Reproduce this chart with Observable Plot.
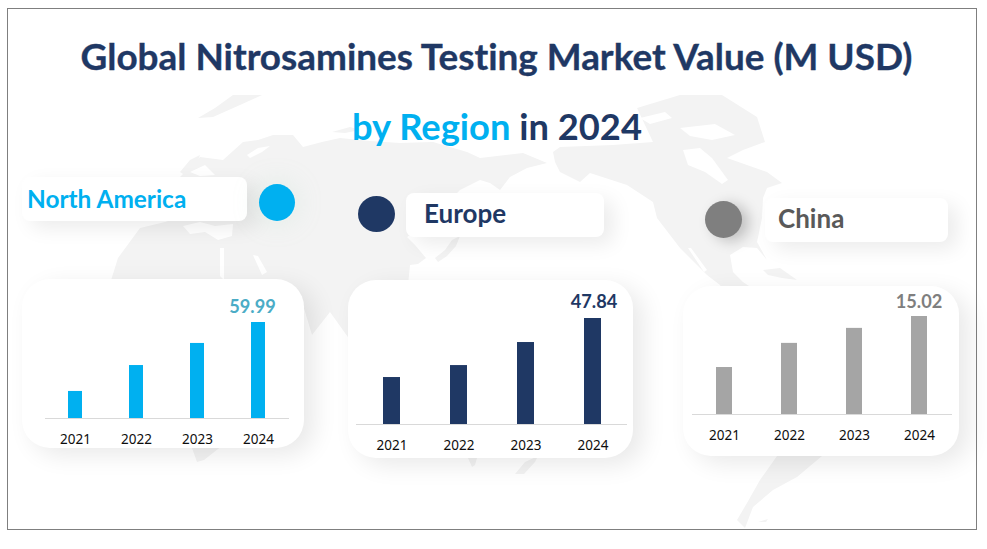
<!DOCTYPE html>
<html>
<head>
<meta charset="utf-8">
<script src="https://cdn.jsdelivr.net/npm/d3@7"></script>
<script src="https://cdn.jsdelivr.net/npm/@observablehq/plot@0.6"></script>
<style>
  html, body { margin: 0; padding: 0; background: #fff; }
  #stage { position: relative; width: 987px; height: 549px; overflow: hidden; background: #fff; font-family: Lato, sans-serif; }
  #frame { position: absolute; left: 7px; top: 8px; width: 968px; height: 520px; border: 1px solid #7f7f7f; }
  #map { position: absolute; left: 0; top: 0; }
  .card { position: absolute; background: #fff; border-radius: 28px; box-shadow: 10px 7px 24px rgba(0,0,0,.09); }
  .tag { position: absolute; background: #fff; border-radius: 8px; box-shadow: 9px 7px 20px rgba(0,0,0,.08); }
  .dot { position: absolute; border-radius: 50%; }
  .chart { position: absolute; }
  .chart svg { background: transparent !important; display: block; }
  #texts { position: absolute; left: 0; top: 0; pointer-events: none; }
  #texts text { font-family: Lato, sans-serif; font-weight: 700; font-variant-ligatures: none; stroke-width: .35px; paint-order: stroke; }
</style>
</head>
<body>
<div id="stage">
  <svg id="map" width="987" height="549" viewBox="0 0 987 549">
    <g fill="#f3f3f3">
      <path d="M198,118L215,108L233,95L262,95L240,105L213,117Z"/>
      <path d="M332,132L350,127L360,130L345,133Z"/>
      <path d="M180,172L190,160L200,155L196,166L186,176Z"/>
      <path d="M108,290L118,258L140,228L165,222L178,218L180,177L200,157L223,160L243,142L258,140L273,135L293,135L303,147L322,142L340,138L370,141L400,143L433,142L467,152L480,158L523,153L547,163L527,168L510,177L500,190L490,183L480,180L460,190L445,205L425,225L407,237L415,245L426,258L418,264L410,265L408,285L400,300L375,345L350,340L330,312L312,335L303,305L285,300L280,400L218,449L204,460L197,462L192,448L150,370L108,320Z"/>
      <path d="M435,258L445,250L452,240L460,236L456,246L447,256L438,262Z"/>
      <path d="M553,152L560,147L613,145L653,142L637,108L680,95L722,95L757,117L765,142L743,150L727,158L767,172L782,183L767,188L763,198L762,218L757,242L767,260L757,248L743,247L730,255L733,272L743,282L770,300L740,320L720,285L707,275L680,248L657,218L653,202L627,185L590,173L580,182L560,172L555,162Z"/>
      <path d="M763,270L780,268L797,280L782,278L768,275Z"/>
      <path d="M777,440L822,440L822,456L803,472L797,477L773,490L753,507L745,528L737,520L747,503L760,480L777,456Z"/>
      <path d="M758,522L768,519L766,522Z"/>
      <path d="M515,474L525,462L538,456L535,462L524,474Z"/>
      <path d="M468,458L477,458L475,465L472,467Z"/>
    </g>
    <g fill="#fff">
      <path d="M183,226L200,222L215,226L233,224L232,236L218,240L205,232L190,234Z"/>
      <path d="M220,248L224,248L224,280L220,276Z"/>
      <path d="M253,255L258,256L267,272L262,275Z"/>
      <path d="M247,155L258,148L270,146L262,152L250,158Z"/>
      <path d="M190,172L205,165L215,175L200,176Z"/>
      <path d="M683,150L700,148L712,158L728,180L722,184L705,172L688,165Z"/>
      <path d="M640,118L665,112L672,118L650,124Z"/>
      <path d="M680,128L715,124L735,135L712,140L690,136Z"/>
      <path d="M688,248L691,248L707,270L704,272Z"/>
    </g>
  </svg>
  <div id="frame"></div>

  <div class="tag" style="left:22px;top:177px;width:225px;height:44px"></div>
  <div class="tag" style="left:406px;top:193px;width:198px;height:44px"></div>
  <div class="tag" style="left:765px;top:198px;width:183px;height:44px"></div>

  <div class="dot" style="left:259px;top:184px;width:36px;height:37px;background:#00b0f0;box-shadow:0 0 28px rgba(170,220,190,.25)"></div>
  <div class="dot" style="left:358px;top:196px;width:37px;height:36px;background:#1f3864"></div>
  <div class="dot" style="left:705px;top:201px;width:37px;height:37px;background:#7f7f7f;box-shadow:7px 3px 14px rgba(0,0,0,.22)"></div>

  <div class="card" style="left:22px;top:279px;width:282px;height:169px"></div>
  <div class="card" style="left:348px;top:280px;width:285px;height:178px"></div>
  <div class="card" style="left:683px;top:286px;width:276px;height:170px"></div>

  <div class="chart" id="c1" style="left:44.5px;top:286px"></div>
  <div class="chart" id="c2" style="left:355.5px;top:286px"></div>
  <div class="chart" id="c3" style="left:692px;top:286px"></div>

  <svg id="texts" width="987" height="549">
    <text x="496.5" y="69.5" text-anchor="middle" font-size="36.9" fill="#1f3864" stroke="#1f3864">Global Nitrosamines Testing Market Value (M USD)</text>
    <text x="497" y="140" text-anchor="middle" font-size="36.3" stroke="none"><tspan fill="#00b0f0">by Region</tspan><tspan fill="#1f3864"> in 2024</tspan></text>
    <text x="27" y="208" font-size="24.4" fill="#00b0f0">North America</text>
    <text x="424" y="223" font-size="26" fill="#1f3864">Europe</text>
    <text x="778" y="228" font-size="26" fill="#595959">China</text>
  </svg>
</div>
<script>
const years = ["2021", "2022", "2023", "2024"];
const northAmerica = [16.9, 33.1, 46.9, 59.99];
const europe = [21.2, 26.6, 37.0, 47.84];
const china = [7.2, 10.9, 13.2, 15.02];

function panel(id, values, opts) {
  const rows = years.map((year, i) => ({year, value: values[i]}));
  const last = rows.slice(-1);
  const chart = Plot.plot({
    width: opts.width,
    height: opts.height,
    marginLeft: 0,
    marginRight: 0,
    marginTop: opts.marginTop,
    marginBottom: opts.marginBottom,
    style: {background: "transparent", fontFamily: "'Noto Sans', sans-serif", overflow: "visible"},
    x: {type: "band", domain: years, paddingInner: opts.padding, paddingOuter: opts.padding / 2, align: 0.5, label: null},
    y: {domain: [0, d3.max(values)], axis: null},
    marks: [
      Plot.barY(rows, {x: "year", y: "value", fill: opts.color}),
      Plot.ruleY([0], {stroke: "#d9d9d9", strokeWidth: 1}),
      Plot.axisX({tickSize: 0, tickPadding: 16, fontSize: 13.5, color: "#0d0d0d", label: null}),
      Plot.text(last, {
        x: "year", y: "value", text: d => d.value.toFixed(2),
        dx: opts.labelDx, dy: opts.labelDy, lineAnchor: "bottom",
        fill: opts.labelColor, fontSize: 18.2, fontWeight: 700, fontFamily: "Lato, sans-serif"
      })
    ]
  });
  document.getElementById(id).appendChild(chart);
}

panel("c1", northAmerica, {width: 244, height: 164, marginTop: 36, marginBottom: 32, padding: 0.77, color: "#00b0f0", labelColor: "#4bacc6", labelDx: -6, labelDy: -10});
panel("c2", europe, {width: 271, height: 170, marginTop: 32, marginBottom: 32, padding: 0.75, color: "#1f3864", labelColor: "#1f3864", labelDx: 1, labelDy: -11});
panel("c3", china, {width: 260, height: 160, marginTop: 30, marginBottom: 32, padding: 0.75, color: "#a5a5a5", labelColor: "#7f7f7f", labelDx: -0.5, labelDy: -9});
</script>
</body>
</html>
